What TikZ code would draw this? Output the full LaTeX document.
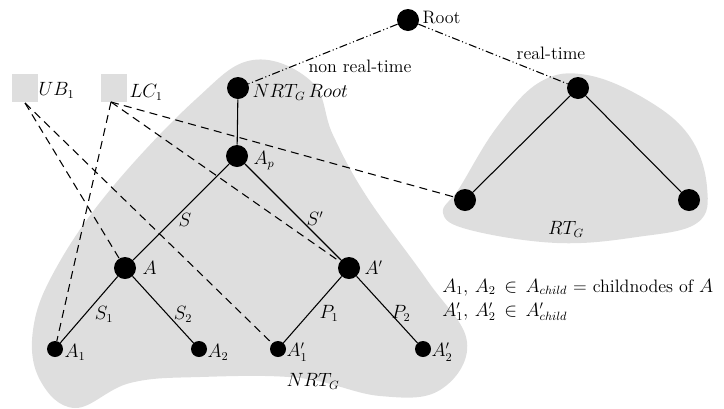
\documentclass[tikz,border=0pt]{standalone}
\begin{document}
\begin{tikzpicture}[x=0.75pt,y=-0.75pt,
  every node/.style={font=\fontsize{13.5}{15}\selectfont},
  blob/.style={fill=black!13},
  big/.style={circle,fill=black,minimum size=16.5pt,inner sep=0pt},
  small/.style={circle,fill=black,minimum size=12pt,inner sep=0pt},
  sq/.style={fill=black!13,minimum width=20pt,minimum height=20.5pt,inner sep=0pt},
  tedge/.style={line width=0.8pt},
  dline/.style={line width=0.8pt,dash pattern=on 6pt off 4pt},
  ddline/.style={line width=0.8pt,dash pattern=on 6pt off 2pt on 0.8pt off 2pt on 0.8pt off 2pt},
  lab/.style={inner sep=1pt}]
\useasboundingbox (0,0) rectangle (724,408);
% blobs
\fill[blob] plot[smooth cycle, tension=0.65] coordinates {(253,60) (312,82) (333,135) (367,197) (427,280) (467,342) (440,390) (380,396) (300,378) (200,377) (130,383) (75,408) (40,380) (33,330) (55,270) (110,190) (195,100)};
\fill[blob] plot[smooth cycle, tension=0.65] coordinates {(587,75) (647,100) (690,137) (707,187) (697,223) (637,237) (557,243) (470,230) (443,213) (460,187) (497,127) (540,82)};
% nodes
\node[big] (root) at (408,20) {};
\node[big] (nrt) at (238,88) {};
\node[big] (ap) at (237,156) {};
\node[big] (a) at (125,268) {};
\node[big] (ad) at (349,268) {};
\node[small] (a1) at (55,349) {};
\node[small] (a2) at (199,349) {};
\node[small] (a1d) at (278,349) {};
\node[small] (a2d) at (423,349) {};
\node[big] (rt) at (578,88) {};
\node[big] (rtl) at (465,200) {};
\node[big] (rtr) at (689,200) {};
\node[sq] (ub) at (25,88) {};
\node[sq] (lc) at (114,88) {};
% labels
\node[lab,anchor=west] (lroot) at (421,18) {Root};
\node[lab,anchor=west] (lnrt) at (251,92) {$NRT_G\,Root$};
\node[lab,anchor=west] (lap) at (252,161) {$A_p$};
\node[lab,anchor=west] (la) at (141,268) {$A$};
\node[lab,anchor=west] (lad) at (363,268) {$A'$};
\node[lab,anchor=west] (la1) at (63,352) {$A_1$};
\node[lab,anchor=west] (la2) at (206,352) {$A_2$};
\node[lab,anchor=west] (la1d) at (285,352) {$A_1'$};
\node[lab,anchor=west] (la2d) at (430,352) {$A_2'$};
\node[lab,anchor=west] (lub) at (37,90) {$UB_1$};
\node[lab,anchor=west] (llc) at (128,92) {$LC_1$};
\node[lab] (lnrtg) at (313,381) {$NRT_G$};
\node[lab] (lrtg) at (566,229) {$RT_G$};
\node[lab] (lnon) at (360,66) {non real-time};
\node[lab] (lreal) at (551,53) {real-time};
\node[lab] (ls) at (185,220) {$S$};
\node[lab] (lsd) at (315,219) {$S'$};
\node[lab] (ls1) at (104,314) {$S_1$};
\node[lab] (ls2) at (183,314) {$S_2$};
\node[lab] (lp1) at (329,313) {$P_1$};
\node[lab] (lp2) at (401,313) {$P_2$};
\node[inner sep=0pt,anchor=base west] (note1) at (442,292) {$A_1,\,A_2\,\in\,A_{child}$ = childnodes of $A$};
\node[inner sep=0pt,anchor=base west] (note2) at (442,316) {$A_1',\,A_2'\,\in\,A_{child}'$};
% dashed connectors
\coordinate (ubs) at (25,103);
\coordinate (lcs) at (111,102);
\draw[dline] (ubs) -- (a);
\draw[dline] (ubs) -- (a1d);
\draw[dline] (lcs) -- (a1);
\draw[dline] (lcs) -- (ad);
\draw[dline] (lcs) -- (rtl);
% dash-dot-dot
\draw[ddline] (root) -- (nrt);
\draw[ddline] (root) -- (rt);
% tree edges
\draw[tedge] (nrt) -- (ap);
\draw[tedge] (ap) -- (a);
\draw[tedge] (ap) -- (ad);
\draw[tedge] (a) -- (a1);
\draw[tedge] (a) -- (a2);
\draw[tedge] (ad) -- (a1d);
\draw[tedge] (ad) -- (a2d);
\draw[tedge] (rt) -- (rtl);
\draw[tedge] (rt) -- (rtr);
\end{tikzpicture}
\end{document}
